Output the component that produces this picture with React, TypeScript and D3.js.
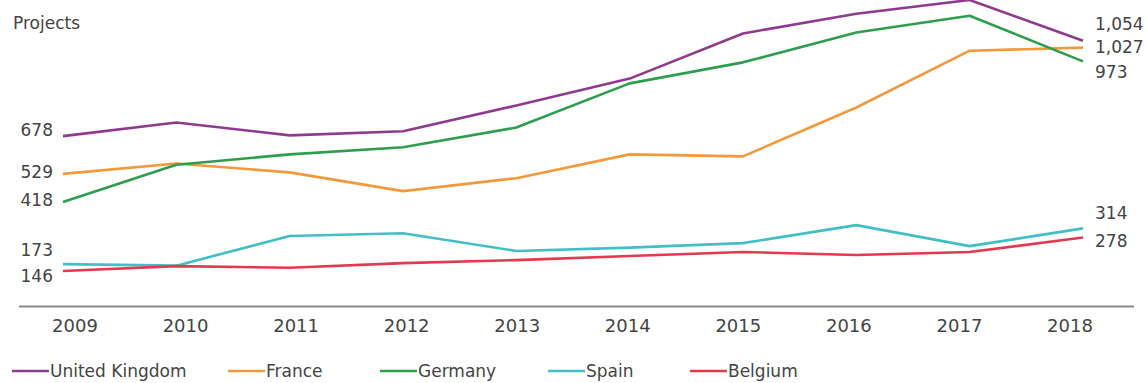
import React from "react";
import * as d3 from "d3";

const years = ["2009", "2010", "2011", "2012", "2013", "2014", "2015", "2016", "2017", "2018"];
const seriesNames = ["United Kingdom", "France", "Germany", "Spain", "Belgium"];
const ukValues = [678, 732, 681, 697, 799, 905, 1083, 1161, 1215, 1054];
const franceValues = [529, 570, 535, 461, 512, 606, 598, 791, 1015, 1027];
const germanyValues = [418, 565, 606, 634, 712, 886, 969, 1087, 1153, 973];
const spainValues = [173, 167, 284, 295, 225, 238, 256, 327, 244, 314];
const belgiumValues = [146, 165, 159, 177, 189, 205, 221, 209, 221, 278];
const yLabel = "Projects";

const colors = ["#8e3b8f", "#f29a3b", "#2e9e4e", "#42bfc4", "#e23a4e"];
const allValues = [ukValues, franceValues, germanyValues, spainValues, belgiumValues];
// label nudges (layout only)
const leftNudge = [-6, -2, -2, -14, 5];
const rightNudge = [-17, -1, 11, -16, 3];
const legendX = [12, 228, 380, 548, 690];

const W = 1146;
const H = 383;
const FONT = "'DejaVu Sans', Verdana, sans-serif";

export default function App() {
  const x = d3.scalePoint<string>().domain(years).range([63, 1083]);
  const xLabel = d3.scalePoint<string>().domain(years).range([75, 1070]);
  const y = d3.scaleLinear().domain([0, 1200]).range([308, 3.8]);
  const line = d3
    .line<number>()
    .x((_, i) => x(years[i]) as number)
    .y((d) => y(d));
  const fmt = d3.format(",");

  return (
    <svg
      width={W}
      height={H}
      style={{ position: "absolute", left: 0, top: 0, background: "#fff" }}
      fontFamily={FONT}
    >
      <rect width={W} height={H} fill="#fff" />
      <text x={13} y={29} fontSize={17} fill="#444">
        {yLabel}
      </text>
      <line x1={19} x2={1134} y1={306.5} y2={306.5} stroke="#8a8a8a" strokeWidth={2} />
      {years.map((yr) => (
        <text
          key={yr}
          x={xLabel(yr)}
          y={332}
          fontSize={18}
          textAnchor="middle"
          fill="#444"
        >
          {yr}
        </text>
      ))}
      {allValues.map((vals, i) => (
        <path
          key={seriesNames[i]}
          d={line(vals) || ""}
          fill="none"
          stroke={colors[i]}
          strokeWidth={2.6}
          strokeLinejoin="round"
        />
      ))}
      {allValues.map((vals, i) => (
        <text
          key={"l" + i}
          x={53}
          y={y(vals[0]) + leftNudge[i]}
          dy="0.36em"
          fontSize={17}
          textAnchor="end"
          fill="#444"
        >
          {fmt(vals[0])}
        </text>
      ))}
      {allValues.map((vals, i) => (
        <text
          key={"r" + i}
          x={1095}
          y={y(vals[vals.length - 1]) + rightNudge[i]}
          dy="0.36em"
          fontSize={17}
          textAnchor="start"
          fill="#444"
        >
          {fmt(vals[vals.length - 1])}
        </text>
      ))}
      {seriesNames.map((name, i) => (
        <g key={"lg" + i} transform={`translate(${legendX[i]},371)`}>
          <line x1={0} x2={37} y1={0} y2={0} stroke={colors[i]} strokeWidth={2.6} />
          <text x={38} y={0} dy="0.36em" fontSize={17} fill="#444">
            {name}
          </text>
        </g>
      ))}
    </svg>
  );
}
